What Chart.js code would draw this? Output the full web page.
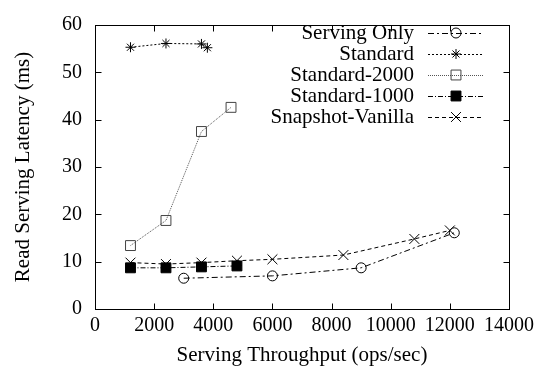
<!DOCTYPE html>
<html>
<head>
<meta charset="utf-8">
<script src="https://cdn.jsdelivr.net/npm/chart.js@4.4.0/dist/chart.umd.min.js"></script>
<style>
  html, body { margin: 0; padding: 0; background: #fff; }
</style>
</head>
<body>
<canvas id="latencia" width="542" height="375"></canvas>
<script>
// throughput (ops/sec) and read latency (ms) per configuration
const servingOnlyX = [3000, 6000, 9000, 12150];
const servingOnlyY = [6.5, 7.0, 8.7, 16.1];
const standardX = [1200, 2400, 3600, 3800];
const standardY = [55.3, 56.1, 56.0, 55.2];
const standard2000X = [1200, 2400, 3600, 4600];
const standard2000Y = [13.4, 18.7, 37.5, 42.6];
const standard1000X = [1200, 2400, 3600, 4800];
const standard1000Y = [8.7, 8.7, 8.9, 9.1];
const snapshotX = [1200, 2400, 3600, 4800, 6000, 8400, 10800, 12000];
const snapshotY = [9.8, 9.5, 9.8, 10.2, 10.5, 11.4, 14.8, 16.6];

const xTicks = [0, 2000, 4000, 6000, 8000, 10000, 12000, 14000];
const yTicks = [0, 10, 20, 30, 40, 50, 60];

const FUENTE = "'Liberation Serif', 'Times New Roman', serif";

function puntos(xs, ys) {
  return xs.map((x, i) => ({ x: x, y: ys[i] }));
}

function serie(label, xs, ys, estilo) {
  return Object.assign({
    label: label,
    data: puntos(xs, ys),
    showLine: true,
    tension: 0,
    borderColor: '#000',
    borderWidth: 1,
    pointBorderColor: '#000',
    pointBackgroundColor: 'rgba(0,0,0,0)',
    pointBorderWidth: 1,
    pointHoverRadius: 0
  }, estilo);
}

// frame, inward ticks on all four sides, and the legend inside the plot
const marcoPlugin = {
  id: 'marco',
  afterDraw(chart) {
    const { ctx, chartArea: a, scales: { x, y } } = chart;
    const L = Math.round(a.left) + 0.5, R = Math.round(a.right) + 0.5;
    const T = Math.round(a.top) + 0.5, B = Math.round(a.bottom) + 0.5;
    const tick = 6;
    ctx.save();
    ctx.strokeStyle = '#000';
    ctx.lineWidth = 1;
    ctx.setLineDash([]);
    ctx.strokeRect(L, T, R - L, B - T);
    ctx.beginPath();
    xTicks.forEach(v => {
      const px = Math.round(x.getPixelForValue(v)) + 0.5;
      ctx.moveTo(px, B); ctx.lineTo(px, B - tick);
      ctx.moveTo(px, T); ctx.lineTo(px, T + tick);
    });
    yTicks.forEach(v => {
      const py = Math.round(y.getPixelForValue(v)) + 0.5;
      ctx.moveTo(L, py); ctx.lineTo(L + tick, py);
      ctx.moveTo(R, py); ctx.lineTo(R - tick, py);
    });
    ctx.stroke();

    // legend
    const textoX = 414, lineaIni = 428, lineaFin = 484, marcaX = 456;
    ctx.font = '21px ' + FUENTE;
    ctx.fillStyle = '#000';
    ctx.textAlign = 'right';
    ctx.textBaseline = 'alphabetic';
    chart.data.datasets.forEach((ds, i) => {
      const fy = 33 + i * 21;
      ctx.fillText(ds.label, textoX, fy + 6);
      ctx.save();
      ctx.strokeStyle = ds.borderColor;
      ctx.lineWidth = ds.borderWidth;
      ctx.setLineDash(ds.borderDash || []);
      ctx.beginPath();
      ctx.moveTo(lineaIni, fy + 0.5);
      ctx.lineTo(lineaFin, fy + 0.5);
      ctx.stroke();
      ctx.restore();
      ctx.save();
      ctx.strokeStyle = ds.pointBorderColor;
      ctx.fillStyle = ds.pointBackgroundColor;
      ctx.lineWidth = ds.pointBorderWidth;
      Chart.helpers.drawPoint(ctx, {
        pointStyle: ds.pointStyle,
        rotation: 0,
        radius: ds.pointRadius,
        borderWidth: ds.pointBorderWidth
      }, marcaX, fy);
      ctx.restore();
    });
    ctx.restore();
  }
};

const ctx = document.getElementById('latencia').getContext('2d');
new Chart(ctx, {
  type: 'scatter',
  data: {
    datasets: [
      serie('Serving Only', servingOnlyX, servingOnlyY, {
        borderDash: [6, 3, 2, 3], pointStyle: 'circle', pointRadius: 5
      }),
      serie('Standard', standardX, standardY, {
        borderDash: [2, 2], pointStyle: 'star', pointRadius: 5
      }),
      serie('Standard-2000', standard2000X, standard2000Y, {
        borderColor: '#555', borderDash: [1, 1], pointBorderColor: '#444',
        pointStyle: 'rect', pointRadius: 7
      }),
      serie('Standard-1000', standard1000X, standard1000Y, {
        borderDash: [5, 2, 1, 2], pointStyle: 'rect', pointRadius: 7,
        pointBackgroundColor: '#000'
      }),
      serie('Snapshot-Vanilla', snapshotX, snapshotY, {
        borderDash: [4, 3], pointStyle: 'crossRot', pointRadius: 7
      })
    ]
  },
  options: {
    responsive: false,
    animation: false,
    events: [],
    layout: { padding: { top: 14, right: 33, left: 0, bottom: 0 } },
    plugins: {
      legend: { display: false },
      tooltip: { enabled: false }
    },
    scales: {
      x: {
        type: 'linear',
        min: 0,
        max: 14000,
        afterBuildTicks: s => { s.ticks = xTicks.map(v => ({ value: v })); },
        afterFit: s => { s.height = 66; },
        grid: { display: false, drawTicks: false },
        border: { display: false },
        ticks: {
          color: '#000', padding: 5, maxRotation: 0,
          callback: v => String(v),
          font: { family: FUENTE, size: 20 }
        },
        title: {
          display: true,
          text: 'Serving Throughput (ops/sec)',
          color: '#000',
          padding: { top: 0, bottom: 7 },
          font: { family: FUENTE, size: 21 }
        }
      },
      y: {
        min: 0,
        max: 60,
        afterBuildTicks: s => { s.ticks = yTicks.map(v => ({ value: v })); },
        afterFit: s => { s.width = 95; },
        grid: { display: false, drawTicks: false },
        border: { display: false },
        ticks: {
          color: '#000', padding: 13,
          callback: v => String(v),
          font: { family: FUENTE, size: 20 }
        },
        title: {
          display: true,
          text: 'Read Serving Latency (ms)',
          color: '#000',
          padding: { top: 11, bottom: 0 },
          font: { family: FUENTE, size: 21 }
        }
      }
    }
  },
  plugins: [marcoPlugin]
});
</script>
</body>
</html>
